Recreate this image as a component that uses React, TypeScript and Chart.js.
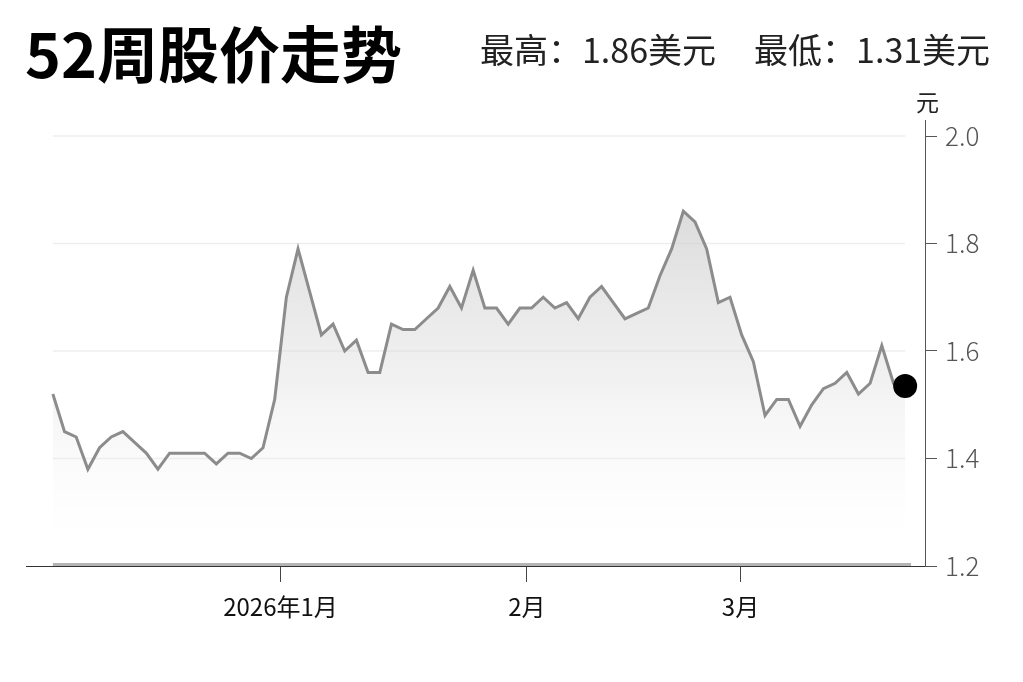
import { useEffect, useRef } from 'react'
import { Chart, registerables } from 'chart.js'
Chart.register(...registerables)

// trading-day closes (early Dec 2025 .. mid Mar 2026)
const prices = [
    1.52, 1.45, 1.44, 1.38, 1.42, 1.44, 1.45, 1.43, 1.41, 1.38,
    1.41, 1.41, 1.41, 1.41, 1.39, 1.41, 1.41, 1.40, 1.42, 1.51,
    1.70, 1.79, 1.71, 1.63, 1.65, 1.60, 1.62, 1.56, 1.56, 1.65,
    1.64, 1.64, 1.66, 1.68, 1.72, 1.68, 1.75, 1.68, 1.68, 1.65,
    1.68, 1.68, 1.70, 1.68, 1.69, 1.66, 1.70, 1.72, 1.69, 1.66,
    1.67, 1.68, 1.74, 1.79, 1.86, 1.84, 1.79, 1.69, 1.70, 1.63,
    1.58, 1.48, 1.51, 1.51, 1.46, 1.50, 1.53, 1.54, 1.56, 1.52,
    1.54, 1.61, 1.54, 1.535,
]
const monthLabels = ['2026年1月', '2月', '3月']
const monthTickAt = [19.5, 40.6, 58.9] // position on the trading-day index
const yTicks = [1.2, 1.4, 1.6, 1.8, 2.0]

const FONT = '"Noto Sans CJK SC", "Noto Sans", sans-serif'

const gridPlugin = {
    id: 'softGrid',
    beforeDatasetsDraw(chart: Chart) {
        const { ctx } = chart
        const x = chart.scales.x
        const y = chart.scales.y
        const x0 = x.getPixelForValue(0)
        const x1 = x.getPixelForValue(prices.length - 1)
        ctx.save()
        yTicks.forEach((v, i) => {
            const py = y.getPixelForValue(v)
            ctx.beginPath()
            if (i === 0) {
                ctx.strokeStyle = '#b4b4b4'
                ctx.lineWidth = 3
                ctx.moveTo(x0, py - 1.5)
                ctx.lineTo(x.getPixelForValue(prices.length - 0.5), py - 1.5)
            } else {
                ctx.strokeStyle = '#eeeeee'
                ctx.lineWidth = 1.5
                ctx.moveTo(x0, py)
                ctx.lineTo(x1, py)
            }
            ctx.stroke()
        })
        // axis line runs a little above the top tick
        const top = y.getPixelForValue(yTicks[yTicks.length - 1])
        ctx.beginPath()
        ctx.strokeStyle = '#555'
        ctx.lineWidth = 1
        ctx.moveTo(chart.chartArea.right + 0.5, top)
        ctx.lineTo(chart.chartArea.right + 0.5, top - 16)
        ctx.stroke()
        ctx.restore()
    },
}

export default function App() {
    const canvasRef = useRef<HTMLCanvasElement>(null)
    const chartRef = useRef<Chart | null>(null)

    useEffect(() => {
        if (!canvasRef.current) return
        const ctx = canvasRef.current.getContext('2d')!
        chartRef.current?.destroy()
        const last = prices.length - 1
        chartRef.current = new Chart(ctx, {
            type: 'line',
            data: {
                datasets: [
                    {
                        data: prices.map((v, i) => ({ x: i, y: v })),
                        borderColor: '#8c8c8c',
                        borderWidth: 3,
                        tension: 0,
                        fill: 'start',
                        backgroundColor: (c: any) => {
                            const area = c.chart.chartArea
                            if (!area) return 'rgba(220,220,220,0.5)'
                            const g = c.chart.ctx.createLinearGradient(0, area.top + 60, 0, area.bottom)
                            g.addColorStop(0, 'rgba(205,205,205,0.75)')
                            g.addColorStop(0.5, 'rgba(225,225,225,0.45)')
                            g.addColorStop(1, 'rgba(255,255,255,0)')
                            return g
                        },
                        pointRadius: (c: any) => (c.dataIndex === last ? 12 : 0),
                        pointHoverRadius: (c: any) => (c.dataIndex === last ? 12 : 0),
                        pointBackgroundColor: '#000',
                        pointBorderWidth: 0,
                    },
                ],
            },
            options: {
                animation: false,
                responsive: true, maintainAspectRatio: false,
                layout: { padding: { left: 26, top: 136, right: 0, bottom: 0 } },
                plugins: { legend: { display: false }, tooltip: { enabled: false } },
                scales: {
                    x: {
                        type: 'linear', min: -2.3, max: 74.7,
                        afterBuildTicks: (s: any) => { s.ticks = monthTickAt.map(v => ({ value: v })) },
                        afterFit: (s: any) => { s.height = 116 },
                        grid: { drawOnChartArea: false, drawTicks: true, tickLength: 16, tickColor: '#444', lineWidth: 1 },
                        border: { display: true, color: '#333', width: 1 },
                        ticks: {
                            callback: (_v: any, i: number) => monthLabels[i],
                            color: '#111', font: { family: FONT, size: 24 }, padding: 10,
                            maxRotation: 0, autoSkip: false,
                        },
                    },
                    y: {
                        position: 'right', min: 1.2, max: 2.0,
                        afterBuildTicks: (s: any) => { s.ticks = yTicks.map(v => ({ value: v })) },
                        afterFit: (s: any) => { s.width = 98 },
                        grid: { drawOnChartArea: false, drawTicks: true, tickLength: 12, tickColor: '#555' },
                        border: { display: true, color: '#555', width: 1 },
                        ticks: {
                            callback: (v: any) => Number(v).toFixed(1),
                            color: '#555', font: { family: FONT, size: 26, weight: '300' as any }, padding: 8,
                        },
                    },
                },
            },
            plugins: [gridPlugin],
        })
        return () => chartRef.current?.destroy()
    }, [])

    return (
        <div style={{ position: 'absolute', left: 0, top: 0, width: 1023, height: 682, background: '#fff', fontFamily: FONT, overflow: 'hidden' }}>
            <div style={{ position: 'absolute', left: 0, top: 0, width: 1023, height: 682 }}>
                <canvas ref={canvasRef} />
            </div>
            <div style={{ position: 'absolute', left: 25, top: 21, fontSize: 61, fontWeight: 700, lineHeight: '61px', color: '#000', whiteSpace: 'nowrap' }}>
                52周股价走势
            </div>
            <div style={{ position: 'absolute', left: 480, top: 32, fontSize: 34, lineHeight: '34px', color: '#222', whiteSpace: 'nowrap' }}>
                <span>最高：1.86美元</span>
                <span style={{ marginLeft: 38 }}>最低：1.31美元</span>
            </div>
            <div style={{ position: 'absolute', left: 916, top: 90, fontSize: 23, lineHeight: '23px', color: '#222' }}>元</div>
        </div>
    )
}
